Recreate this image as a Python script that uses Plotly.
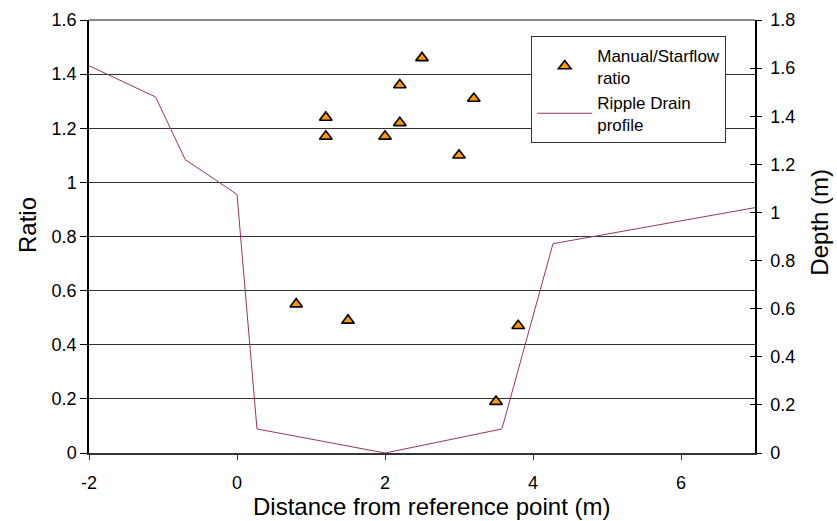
import plotly.graph_objects as go

# Manual/Starflow ratio measurements along the transect
ratio_x = [0.8, 1.2, 1.2, 1.5, 2.0, 2.2, 2.2, 2.5, 3.0, 3.2, 3.5, 3.8]
ratio_y = [0.55, 1.24, 1.17, 0.49, 1.17, 1.36, 1.22, 1.46, 1.10, 1.31, 0.19, 0.47]

# Ripple Drain cross-section profile
profile_x = [-2.0, -1.1, -0.7, 0.0, 0.27, 2.0, 3.58, 4.27, 7.0]
profile_depth = [1.61, 1.48, 1.22, 1.075, 0.10, 0.0, 0.10, 0.87, 1.02]

x_ticks = [-2, 0, 2, 4, 6]
ratio_ticks = [0, 0.2, 0.4, 0.6, 0.8, 1, 1.2, 1.4, 1.6]
depth_ticks = [0, 0.2, 0.4, 0.6, 0.8, 1, 1.2, 1.4, 1.6, 1.8]

x_title = "Distance from reference point (m)"
ratio_title = "Ratio"
depth_title = "Depth (m)"

FONT = "Liberation Sans, Arial, sans-serif"

fig = go.Figure()

fig.add_trace(go.Scatter(
    x=profile_x, y=profile_depth, yaxis="y2",
    mode="lines", name="Ripple Drain<br>profile",
    line=dict(color="#993366", width=1),
    legendrank=2,
))

fig.add_trace(go.Scatter(
    x=ratio_x, y=ratio_y, yaxis="y",
    mode="markers", name="Manual/Starflow<br>ratio",
    marker=dict(symbol="triangle-up", size=11, color="#FF9900",
                line=dict(color="#000000", width=1.6)),
    legendrank=1,
))

# placeholder trace so the tick-only axis is drawn
fig.add_trace(go.Scatter(x=[None], y=[None], yaxis="y3", showlegend=False, hoverinfo="skip"))

fig.update_layout(
    width=837, height=521,
    margin=dict(l=89, r=82, t=20, b=68, autoexpand=False),
    paper_bgcolor="white", plot_bgcolor="white",
    font=dict(family=FONT, size=18, color="#000000"),
    showlegend=True,
    legend=dict(
        x=0.664, y=0.962, xanchor="left", yanchor="top",
        bgcolor="white", bordercolor="#333333", borderwidth=1,
        font=dict(family=FONT, size=17, color="#000000"),
        itemwidth=55, tracegroupgap=0,
    ),
    xaxis=dict(
        range=[-2, 7], tickvals=x_ticks, ticktext=[str(v) for v in x_ticks],
        showgrid=False, zeroline=False, automargin=False,
        showline=True, linecolor="#333333", linewidth=1.5,
        ticks="outside", ticklen=5, tickcolor="#333333",
        ticklabelstandoff=8,
        tickfont=dict(size=18),
    ),
    yaxis=dict(
        range=[0, 1.6], tickvals=ratio_ticks,
        ticktext=["0", "0.2", "0.4", "0.6", "0.8", "1", "1.2", "1.4", "1.6"],
        showgrid=True, gridcolor="#333333", gridwidth=1,
        zeroline=False, automargin=False,
        showline=True, linecolor="#000000", linewidth=1.5,
        ticks="outside", ticklen=7, tickcolor="#000000",
        tickfont=dict(size=18),
    ),
    yaxis2=dict(
        range=[0, 1.8], tickvals=depth_ticks,
        ticktext=["0", "0.2", "0.4", "0.6", "0.8", "1", "1.2", "1.4", "1.6", "1.8"],
        overlaying="y", side="right", anchor="x",
        showgrid=False, zeroline=False, automargin=False,
        showline=True, linecolor="#000000", linewidth=1.5,
        ticks="outside", ticklen=5, tickcolor="#000000",
        ticklabelstandoff=5,
        tickfont=dict(size=18),
    ),
    # inner half of the cross tick marks on the depth axis
    yaxis3=dict(
        range=[0, 1.8], tickvals=depth_ticks,
        overlaying="y", side="right", anchor="x",
        showgrid=False, zeroline=False, showline=False, automargin=False,
        ticks="inside", ticklen=5, tickcolor="#000000",
        showticklabels=False,
    ),
    shapes=[dict(type="line", xref="paper", yref="paper", x0=0, x1=1, y0=1, y1=1,
                 line=dict(color="#888888", width=2), layer="above")],
    annotations=[
        dict(text=x_title, xref="paper", yref="paper", x=0.515, y=-0.1247,
             xanchor="center", yanchor="middle", showarrow=False,
             font=dict(family=FONT, size=24)),
        dict(text=ratio_title, xref="paper", yref="paper", x=-0.0916, y=0.5266,
             xanchor="center", yanchor="middle", showarrow=False, textangle=-90,
             font=dict(family=FONT, size=24)),
        dict(text=depth_title, xref="paper", yref="paper", x=1.0976, y=0.532,
             xanchor="center", yanchor="middle", showarrow=False, textangle=-90,
             font=dict(family=FONT, size=24)),
    ],
)

fig.write_html("out.html")
